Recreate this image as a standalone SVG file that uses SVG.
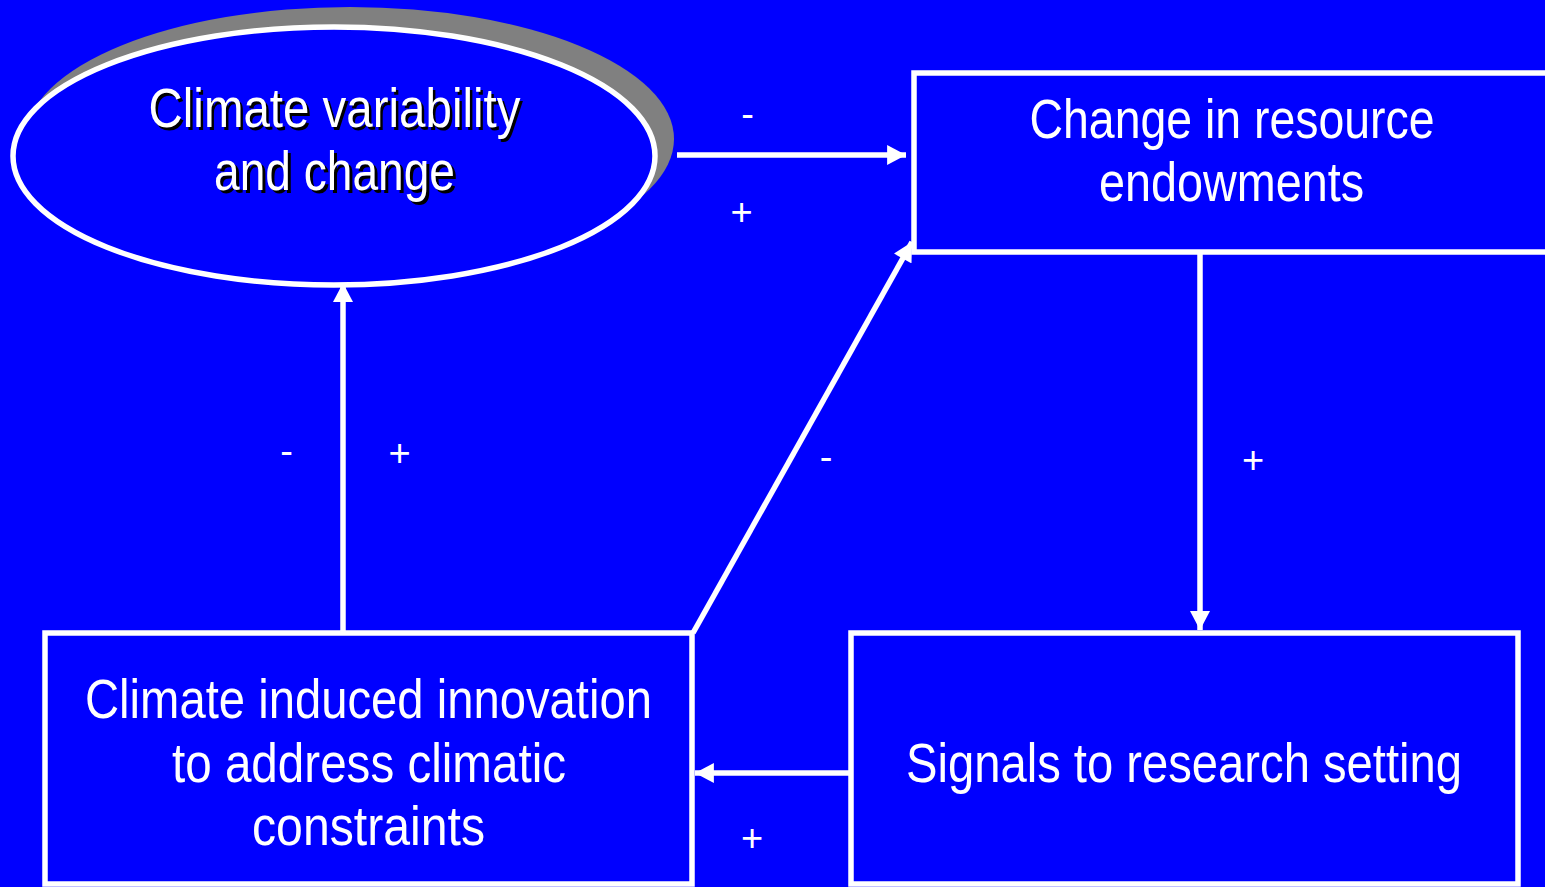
<svg xmlns="http://www.w3.org/2000/svg" width="1545" height="887" viewBox="0 0 1545 887">
  <style>
    .box { fill: #0000ff; stroke: #ffffff; stroke-width: 5.5; }
    .conn { stroke: #ffffff; stroke-width: 5.5; fill: none; }
    .big { font-family: "Liberation Sans Narrow", "Liberation Sans", Arial, sans-serif; font-size: 56px; fill: #ffffff; text-anchor: middle; }
    .shadow { font-family: "Liberation Sans Narrow", "Liberation Sans", Arial, sans-serif; font-size: 56px; fill: #000000; text-anchor: middle; }
    .lbl { font-family: "Liberation Sans Narrow", "Liberation Sans", Arial, sans-serif; font-size: 38px; fill: #ffffff; text-anchor: middle; }
  </style>
  <defs>
    <marker id="arrow" markerUnits="userSpaceOnUse" markerWidth="20" markerHeight="20" viewBox="0 0 17 18" refX="17" refY="9" orient="auto">
      <path d="M0,0 L17,9 L0,18 Z" fill="#ffffff"/>
    </marker>
  </defs>
  <rect x="0" y="0" width="1545" height="887" fill="#0000ff"/>

  <g id="node-climate">
    <ellipse cx="350" cy="139" rx="324" ry="132" fill="#808080"/>
    <ellipse cx="334" cy="156" rx="321" ry="129" class="box"/>
    <text class="shadow" x="337" y="130" textLength="372" lengthAdjust="spacingAndGlyphs">Climate variability</text>
    <text class="big" x="334.5" y="127" textLength="372" lengthAdjust="spacingAndGlyphs">Climate variability</text>
    <text class="shadow" x="337.5" y="193" textLength="241" lengthAdjust="spacingAndGlyphs">and change</text>
    <text class="big" x="334.5" y="190" textLength="241" lengthAdjust="spacingAndGlyphs">and change</text>
  </g>

  <g id="node-resource">
    <rect x="914" y="73" width="660" height="179" class="box"/>
    <text class="big" x="1232" y="138" textLength="405" lengthAdjust="spacingAndGlyphs">Change in resource</text>
    <text class="big" x="1231.5" y="201" textLength="265" lengthAdjust="spacingAndGlyphs">endowments</text>
  </g>

  <g id="node-innovation">
    <rect x="45" y="633" width="647" height="251" class="box"/>
    <text class="big" x="368.5" y="718" textLength="567" lengthAdjust="spacingAndGlyphs">Climate induced innovation</text>
    <text class="big" x="369" y="782" textLength="394" lengthAdjust="spacingAndGlyphs">to address climatic</text>
    <text class="big" x="368.5" y="845" textLength="233" lengthAdjust="spacingAndGlyphs">constraints</text>
  </g>

  <g id="node-signals">
    <rect x="851" y="633" width="667" height="251" class="box"/>
    <text class="big" x="1184" y="782" textLength="556" lengthAdjust="spacingAndGlyphs">Signals to research setting</text>
  </g>

  <g id="connectors">
    <line class="conn" x1="677" y1="155" x2="906" y2="155" marker-end="url(#arrow)"/>
    <line class="conn" x1="343" y1="633" x2="343" y2="283" marker-end="url(#arrow)"/>
    <line class="conn" x1="1200" y1="252" x2="1200" y2="630" marker-end="url(#arrow)"/>
    <line class="conn" x1="850" y1="773" x2="695" y2="773" marker-end="url(#arrow)"/>
    <line class="conn" x1="693" y1="633" x2="912" y2="242" marker-end="url(#arrow)"/>
    <text class="lbl" x="747.5" y="127">-</text>
    <text class="lbl" x="741.5" y="225">+</text>
    <text class="lbl" x="286.5" y="464">-</text>
    <text class="lbl" x="399.5" y="466">+</text>
    <text class="lbl" x="826" y="470">-</text>
    <text class="lbl" x="1253" y="473">+</text>
    <text class="lbl" x="752" y="851">+</text>
  </g>
</svg>
